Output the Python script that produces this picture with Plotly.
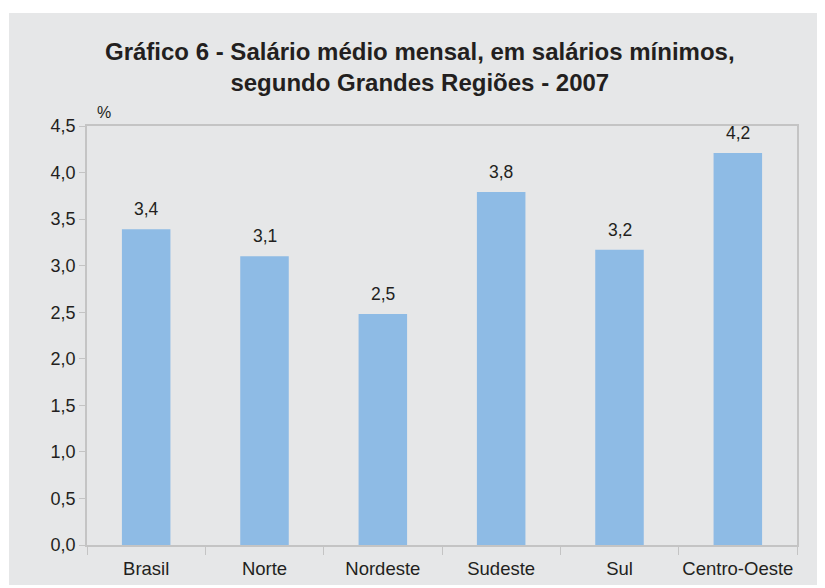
import plotly.graph_objects as go

categories = ["Brasil", "Norte", "Nordeste", "Sudeste", "Sul", "Centro-Oeste"]
values = [3.39, 3.10, 2.48, 3.79, 3.17, 4.21]
y_ticks = [0, 0.5, 1.0, 1.5, 2.0, 2.5, 3.0, 3.5, 4.0, 4.5]

# page body has an 8px margin; figure sized to fit the 825x588 window
OFF = 8
W, H = 825 - OFF, 588 - OFF
L, R, T, B = 87 - OFF, 825 - 797, 126 - OFF, 588 - 545
pw, ph = W - L - R, H - T - B

def px_x(x):
    return (x - OFF - L) / pw

def px_y(y):
    return (H - B - (y - OFF)) / ph

FONT = "Liberation Sans, Arial, sans-serif"
TXT = "#231f20"

fig = go.Figure()
fig.add_trace(go.Bar(
    x=categories, y=values, width=0.41,
    marker=dict(color="#8ebbe5", line=dict(width=0)),
    hoverinfo="skip",
))

annotations = []
for c, v in zip(categories, values):
    annotations.append(dict(
        x=c, y=v, xref="x", yref="y", text=f"{v:.1f}".replace(".", ","),
        showarrow=False, yanchor="bottom", yshift=8,
        font=dict(size=17.5, color=TXT, family=FONT),
    ))
annotations.append(dict(
    x=px_x(104), y=px_y(113), xref="paper", yref="paper", text="%",
    showarrow=False, xanchor="center", yanchor="middle",
    font=dict(size=16, color=TXT, family=FONT),
))
annotations.append(dict(
    x=px_x(420), y=px_y(67), xref="paper", yref="paper",
    text="<b>Gráfico 6 - Salário médio mensal, em salários mínimos,<br>segundo Grandes Regiões - 2007</b>",
    showarrow=False, xanchor="center", yanchor="middle", align="center",
    font=dict(size=24, color=TXT, family=FONT),
))

fig.update_layout(
    width=W, height=H,
    margin=dict(l=L, r=R, t=T, b=B, pad=0, autoexpand=False),
    paper_bgcolor="white",
    plot_bgcolor="white",
    separators=",.",
    showlegend=False,
    annotations=annotations,
    shapes=[dict(
        type="rect", xref="paper", yref="paper", layer="below",
        x0=px_x(9), x1=px_x(830), y0=px_y(585), y1=px_y(13),
        fillcolor="#e6e7e8", line=dict(width=0),
    )],
    font=dict(family=FONT, size=16, color=TXT),
)
fig.update_xaxes(
    showgrid=False, showline=True, linecolor="#c4c4c4", linewidth=1.5, mirror=True,
    ticks="outside", tickson="boundaries", ticklen=8, tickcolor="#c4c4c4",
    tickangle=0, automargin=False, ticklabelstandoff=6,
    tickfont=dict(size=18.5, color=TXT),
)
fig.update_yaxes(
    range=[0, 4.5], tickvals=y_ticks, tickformat=".1f",
    showgrid=False, showline=True, linecolor="#c4c4c4", linewidth=1.5, mirror=True,
    ticks="outside", ticklen=6, tickcolor="#c4c4c4", zeroline=False,
    automargin=False,
    tickfont=dict(size=18, color=TXT),
)

fig.write_html("out.html")
